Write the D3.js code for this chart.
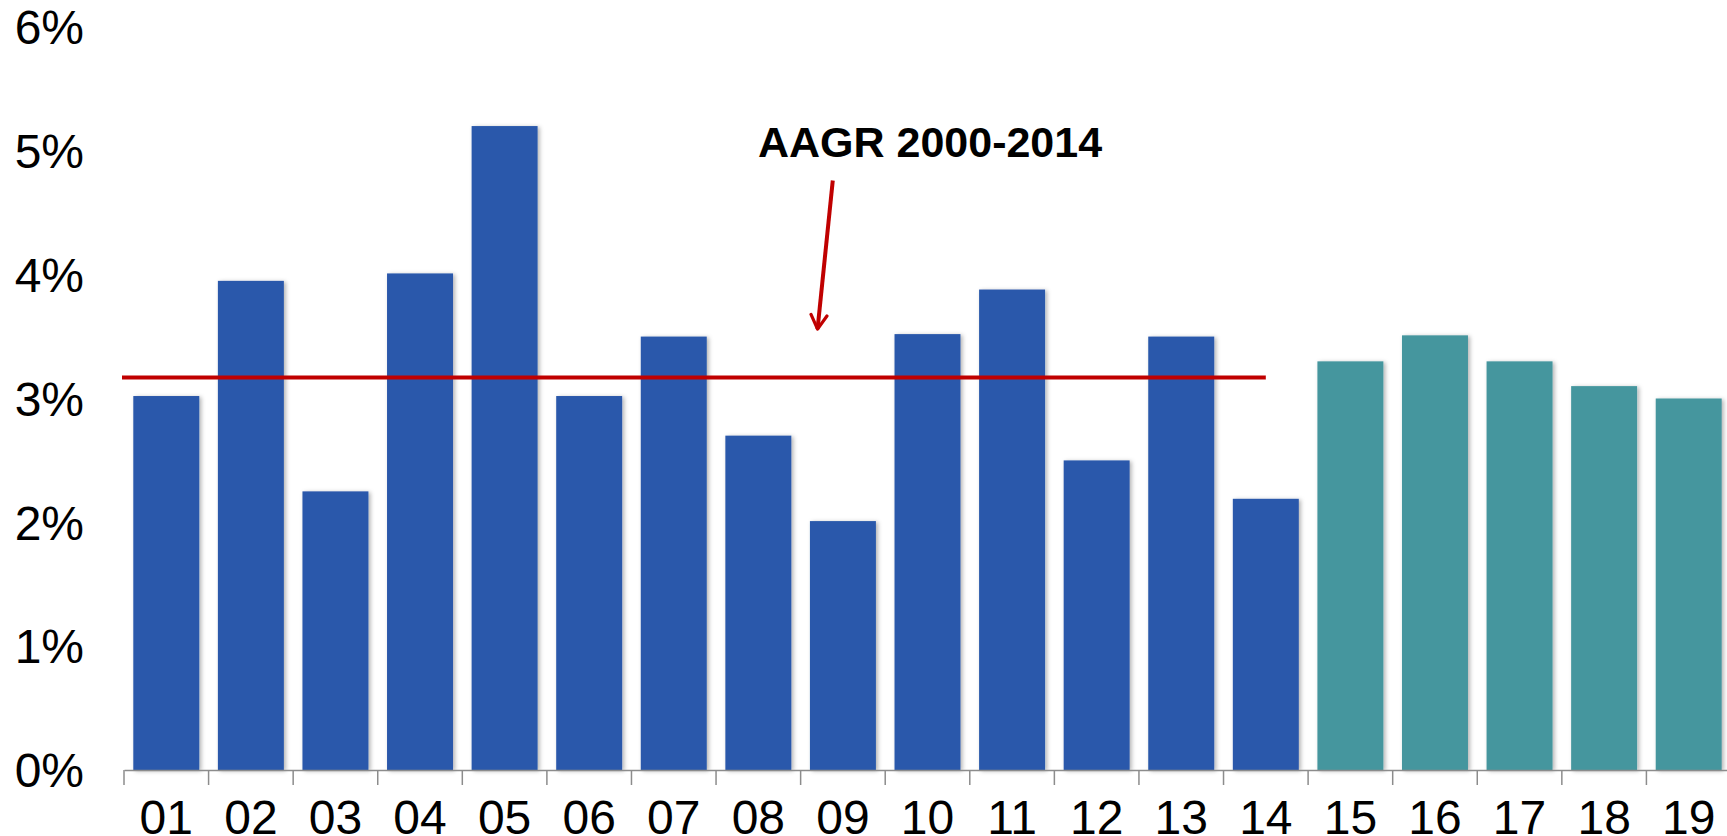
<!DOCTYPE html>
<html>
<head>
<meta charset="utf-8">
<script src="https://cdn.jsdelivr.net/npm/d3@7"></script>
<style>
  body { margin: 0; background: #fff; }
  text { font-family: "Liberation Sans", Arial, sans-serif; }
</style>
</head>
<body>
<div id="chart"></div>
<script>
// values (annual growth, %)
var years = ["01", "02", "03", "04", "05", "06", "07", "08", "09", "10",
             "11", "12", "13", "14", "15", "16", "17", "18", "19"];
var growth = [3.02, 3.95, 2.25, 4.01, 5.20, 3.02, 3.50, 2.70, 2.01, 3.52,
              3.88, 2.50, 3.50, 2.19, 3.30, 3.51, 3.30, 3.10, 3.00];
var forecastYears = ["15", "16", "17", "18", "19"];
var yTicks = [0, 1, 2, 3, 4, 5, 6];
var aagr = 3.17;
var aagrLabel = "AAGR 2000-2014";
var aagrLastYear = "14";

var svgWidth = 1727;
var svgHeight = 836;
var margin = { top: 27, right: -4, bottom: 66, left: 124 };

var chartHeight = svgHeight - margin.top - margin.bottom;
var chartWidth = svgWidth - margin.left - margin.right;

var data = years.map(function(y, i) {
  return { year: y, value: growth[i], forecast: forecastYears.indexOf(y) >= 0 };
});

var svg = d3.select("#chart")
  .append("svg")
  .attr("width", svgWidth)
  .attr("height", svgHeight);

// soft shadow under the bars
var defs = svg.append("defs");
defs.append("filter")
  .attr("id", "shadow")
  .attr("x", "-10%").attr("y", "-10%")
  .attr("width", "130%").attr("height", "130%")
  .append("feDropShadow")
  .attr("dx", 2)
  .attr("dy", 1)
  .attr("stdDeviation", 2)
  .attr("flood-color", "#000")
  .attr("flood-opacity", 0.3);

defs.append("marker")
  .attr("id", "arrow")
  .attr("viewBox", "0 0 10 10")
  .attr("refX", 8).attr("refY", 5)
  .attr("markerWidth", 5).attr("markerHeight", 5)
  .attr("markerUnits", "strokeWidth")
  .attr("orient", "auto")
  .append("path")
  .attr("d", "M1,1 L8,5 L1,9")
  .attr("fill", "none")
  .attr("stroke", "#C00000")
  .attr("stroke-width", 1.6)
  .attr("stroke-linecap", "round")
  .attr("stroke-linejoin", "round");

var chartGroup = svg.append("g")
  .attr("transform", `translate(${margin.left}, ${margin.top})`);

var xScale = d3.scaleBand()
  .domain(years)
  .range([0, chartWidth])
  .paddingInner(0.22)
  .paddingOuter(0.11);

var yScale = d3.scaleLinear()
  .domain([0, 6])
  .range([chartHeight, 0]);

// y axis: labels only
var yAxis = d3.axisLeft(yScale)
  .tickValues(yTicks)
  .tickFormat(function(d) { return d + "%"; })
  .tickSize(0)
  .tickPadding(40);

chartGroup.append("g")
  .call(yAxis)
  .call(function(g) { g.select(".domain").remove(); })
  .selectAll("text")
  .attr("dy", "0.35em")
  .attr("font-size", "48px")
  .attr("fill", "#000");

// bars
chartGroup.selectAll(".bar")
  .data(data)
  .enter()
  .append("rect")
  .attr("class", "bar")
  .attr("x", function(d) { return xScale(d.year); })
  .attr("y", function(d) { return yScale(d.value); })
  .attr("width", xScale.bandwidth())
  .attr("height", function(d) { return chartHeight - yScale(d.value); })
  .attr("fill", function(d) { return d.forecast ? "#45969E" : "#2A58AB"; })
  .attr("filter", "url(#shadow)");

// x axis
var xAxis = d3.axisBottom(xScale)
  .tickSize(0)
  .tickSizeOuter(0)
  .tickPadding(30);

var xAxisGroup = chartGroup.append("g")
  .attr("transform", `translate(0, ${chartHeight})`)
  .call(xAxis);

xAxisGroup.select(".domain")
  .attr("stroke", "#8c8c8c")
  .attr("stroke-width", 1.5);

xAxisGroup.selectAll("text")
  .attr("font-size", "48px")
  .attr("fill", "#000");

// ticks sit between the categories
var half = xScale.step() * xScale.paddingInner() / 2;
var boundaries = years.map(function(y) { return xScale(y) - half; });
boundaries.push(xScale(years[years.length - 1]) + xScale.bandwidth() + half);

xAxisGroup.selectAll(".sep")
  .data(boundaries)
  .enter()
  .append("line")
  .attr("class", "sep")
  .attr("x1", function(d) { return d; })
  .attr("x2", function(d) { return d; })
  .attr("y1", 0)
  .attr("y2", 15)
  .attr("stroke", "#8c8c8c")
  .attr("stroke-width", 1.5);

// average growth line, 2000-2014
chartGroup.append("line")
  .attr("x1", -2)
  .attr("x2", xScale(aagrLastYear) + xScale.bandwidth() / 2)
  .attr("y1", yScale(aagr))
  .attr("y2", yScale(aagr))
  .attr("stroke", "#C00000")
  .attr("stroke-width", 4);

// annotation, placed in band steps / data units
var xAt = function(i) { return i * xScale.step(); };

chartGroup.append("text")
  .text(aagrLabel)
  .attr("x", xAt(9.53))
  .attr("y", yScale(4.95))
  .attr("text-anchor", "middle")
  .attr("font-size", "43px")
  .attr("font-weight", "bold")
  .attr("fill", "#000");

chartGroup.append("line")
  .attr("x1", xAt(8.38))
  .attr("y1", yScale(4.76))
  .attr("x2", xAt(8.2))
  .attr("y2", yScale(3.56))
  .attr("stroke", "#C00000")
  .attr("stroke-width", 4)
  .attr("marker-end", "url(#arrow)");
</script>
</body>
</html>
